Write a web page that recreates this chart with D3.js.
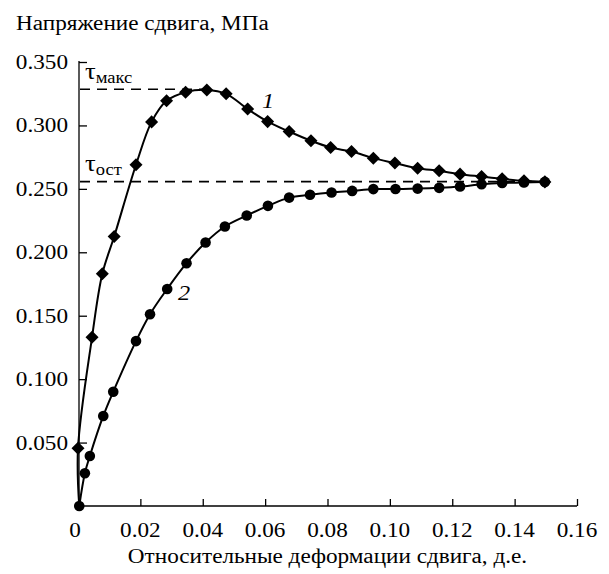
<!DOCTYPE html>
<html><head><meta charset="utf-8">
<script src="https://cdn.jsdelivr.net/npm/d3@7"></script>
<style>body{margin:0;background:#fff}svg{display:block}
text{font-family:"Liberation Serif","Tinos","Times New Roman","DejaVu Serif",serif;}
</style>
</head><body>
<script>
// ---- data ----
const xTicks = [0, 0.02, 0.04, 0.06, 0.08, 0.10, 0.12, 0.14, 0.16];
const xTickLabels = ["0", "0.02", "0.04", "0.06", "0.08", "0.10", "0.12", "0.14", "0.16"];
const yTicks = [0.05, 0.10, 0.15, 0.20, 0.25, 0.30, 0.35];
const yTickLabels = ["0.050", "0.100", "0.150", "0.200", "0.250", "0.300", "0.350"];
const yTitle = "Напряжение сдвига, МПа";
const xTitle = "Относительные деформации сдвига, д.е.";

// curve 1 (diamonds)
const s1x = [0.0000, 0.0045, 0.0078, 0.0116, 0.0186, 0.0236, 0.0284, 0.0345, 0.0413, 0.0475, 0.0544, 0.0608, 0.0677, 0.0747, 0.0810, 0.0877, 0.0947, 0.1016, 0.1089, 0.1158, 0.1225, 0.1294, 0.1360, 0.1430, 0.1497];
const s1y = [0.0455, 0.1330, 0.1830, 0.2124, 0.2690, 0.3028, 0.3194, 0.3262, 0.3280, 0.3249, 0.3129, 0.3030, 0.2952, 0.2879, 0.2826, 0.2794, 0.2742, 0.2703, 0.2663, 0.2642, 0.2616, 0.2597, 0.2579, 0.2563, 0.2555];
// curve 2 (circles)
const s2x = [0.0004, 0.0022, 0.0038, 0.0081, 0.0113, 0.0186, 0.0231, 0.0286, 0.0348, 0.0409, 0.0471, 0.0541, 0.0609, 0.0677, 0.0744, 0.0813, 0.0879, 0.0947, 0.1018, 0.1089, 0.1158, 0.1225, 0.1294, 0.1360, 0.1430, 0.1497];
const s2y = [0.0000, 0.0258, 0.0394, 0.0710, 0.0901, 0.1300, 0.1512, 0.1711, 0.1914, 0.2077, 0.2203, 0.2290, 0.2366, 0.2431, 0.2453, 0.2471, 0.2484, 0.2498, 0.2499, 0.2502, 0.2508, 0.2518, 0.2536, 0.2546, 0.2550, 0.2555];
const origin = [0.0004, 0.0];
const tauMax = 0.3285, tauRes = 0.2557;
const curveLabels = [{t: "1", x: 0.0590, y: 0.3139}, {t: "2", x: 0.0321, y: 0.1625}];

// ---- drawing ----
const W = 609, H = 574;
const SX = 1.16;
const svg = d3.select("body").append("svg").attr("width", W).attr("height", H);
const x = d3.scaleLinear().domain([0, 0.16]).range([78, 577]);
const y = d3.scaleLinear().domain([0, 0.35]).range([506, 62]);

function txt(str, px, py, anchor, size, italic) {
  const g = svg.append("g").attr("transform", `translate(${px},${py}) scale(${SX},1)`);
  const t = g.append("text").attr("font-size", size)
    .attr("text-anchor", anchor).attr("fill", "#000").text(str);
  if (italic) t.attr("font-style", "italic");
  return t;
}

// axes
const xa = svg.append("g").attr("transform", `translate(0,${y(0)})`)
  .call(d3.axisBottom(x).tickValues(xTicks.slice(1)).tickSize(-7).tickFormat("").tickSizeOuter(0));
const ya = svg.append("g").attr("transform", `translate(${x(0)+1},0)`)
  .call(d3.axisLeft(y).tickValues(yTicks).tickSize(-8).tickFormat("").tickSizeOuter(0));
[xa, ya].forEach(a => { a.selectAll("path,line").attr("stroke", "#000").attr("stroke-width", 1.3); });
ya.select("path").attr("d", `M0,${y(0)}V${y(0.35)-1}`);
xa.select("path").attr("d", `M${x(0)},0H${x(0.16)}`);

xTicks.forEach((v, i) => txt(xTickLabels[i], x(v) - (i === 0 ? 3 : 0), 537, "middle", 20));
yTicks.forEach((v, i) => txt(yTickLabels[i], 68, y(v) + 7, "end", 20));
txt(yTitle, 16, 30, "start", 20);
txt(xTitle, (x(0) + x(0.16)) / 2, 563, "middle", 20);

// dashed reference lines
const maxIdx = d3.maxIndex(s1y);
svg.append("line").attr("x1", x(0) + 2).attr("x2", x(s1x[maxIdx])).attr("y1", y(tauMax)).attr("y2", y(tauMax))
  .attr("stroke", "#000").attr("stroke-width", 1.7).attr("stroke-dasharray", "10,7");
svg.append("line").attr("x1", x(0) + 2).attr("x2", x(s1x[s1x.length - 1])).attr("y1", y(tauRes)).attr("y2", y(tauRes))
  .attr("stroke", "#000").attr("stroke-width", 1.7).attr("stroke-dasharray", "10,7");

// tau labels
function tau(sub, py) {
  const g = svg.append("g").attr("transform", `translate(85,${py}) scale(${SX},1)`);
  const t = g.append("text").attr("font-size", 23).attr("fill", "#000");
  t.append("tspan").text("τ");
  t.append("tspan").attr("font-size", 16).attr("dy", 4).text(sub);
}
tau("макс", 79);
tau("ост", 171);

// lines
const p1 = [[origin[0], origin[1]]].concat(s1x.map((v, i) => [v, s1y[i]]));
const p2 = s2x.map((v, i) => [v, s2y[i]]);
const line = d3.line().x(d => x(d[0])).y(d => y(d[1])).curve(d3.curveCatmullRom.alpha(0.5));
[p1, p2].forEach(p => svg.append("path").attr("d", line(p)).attr("fill", "none")
  .attr("stroke", "#000").attr("stroke-width", 2));

// markers
svg.append("g").selectAll("circle").data(p2).join("circle")
  .attr("cx", d => x(d[0])).attr("cy", d => y(d[1])).attr("r", 5.3).attr("fill", "#000");
const dia = d3.symbol().type(d3.symbolSquare).size(85);
svg.append("g").selectAll("path").data(s1x.map((v, i) => [v, s1y[i]])).join("path")
  .attr("d", dia).attr("transform", d => `translate(${x(d[0])},${y(d[1])}) rotate(45)`).attr("fill", "#000");

curveLabels.forEach(c => txt(c.t, x(c.x), y(c.y), "start", 21, true));
</script>
</body></html>
